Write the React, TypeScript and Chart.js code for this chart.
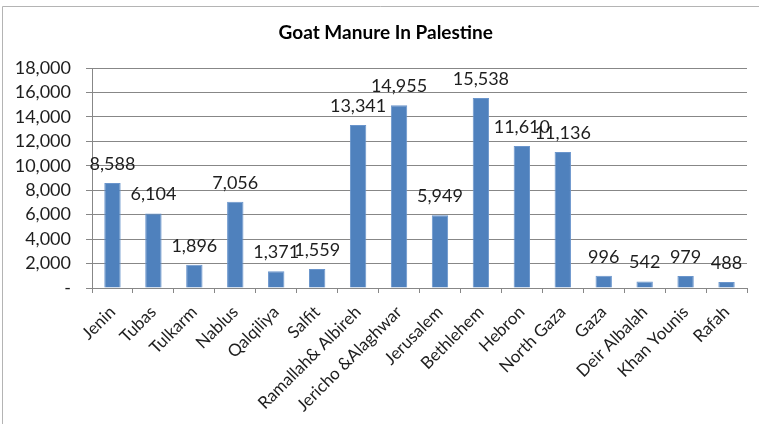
import React, { useEffect, useRef } from "react";
import { Chart, registerables } from "chart.js";

Chart.register(...registerables);

const chartTitle = "Goat Manure In Palestine";

const governorates = [
  "Jenin",
  "Tubas",
  "Tulkarm",
  "Nablus",
  "Qalqiliya",
  "Salfit",
  "Ramallah& Albireh",
  "Jericho &Alaghwar",
  "Jerusalem",
  "Bethlehem",
  "Hebron",
  "North Gaza",
  "Gaza",
  "Deir Albalah",
  "Khan Younis",
  "Rafah",
];

const manureValues = [
  8588, 6104, 1896, 7056, 1371, 1559, 13341, 14955, 5949, 15538, 11610, 11136,
  996, 542, 979, 488,
];

const yMin = 0;
const yMax = 18000;
const yStep = 2000;

const FONT = "Lato, 'Noto Sans', sans-serif";
const GRID = "#878787";
const TEXT = "#1e1e1e";
const FRAME_X = 2.5;
const FRAME_Y = 6.5;

const fmt = (v: number) => (v === 0 ? "-" : v.toLocaleString("en-US"));

// Writes each bar's value just above it
const valueLabels = {
  id: "valueLabels",
  afterDatasetsDraw(chart: any) {
    const ctx = chart.ctx;
    const meta = chart.getDatasetMeta(0);
    const data = chart.data.datasets[0].data as number[];
    ctx.save();
    ctx.font = `18px ${FONT}`;
    ctx.fillStyle = TEXT;
    ctx.textAlign = "center";
    ctx.textBaseline = "middle";
    meta.data.forEach((bar: any, i: number) => {
      ctx.fillText(fmt(data[i]), bar.x, bar.y - 19);
    });
    ctx.restore();
  },
};

// White background, the thin frame and the heading centred in the frame
const frame = {
  id: "frame",
  beforeDraw(chart: any) {
    const { ctx, width, height } = chart;
    ctx.save();
    ctx.fillStyle = "#ffffff";
    ctx.fillRect(0, 0, width, height);
    ctx.strokeStyle = "#b4b4b4";
    ctx.lineWidth = 1;
    ctx.beginPath();
    ctx.moveTo(FRAME_X, height);
    ctx.lineTo(FRAME_X, FRAME_Y);
    ctx.lineTo(width, FRAME_Y);
    ctx.stroke();

    ctx.font = `bold 19px ${FONT}`;
    ctx.fillStyle = "#000000";
    ctx.textAlign = "center";
    ctx.textBaseline = "middle";
    ctx.fillText(chartTitle, (FRAME_X + width) / 2 + 5, 33);
    ctx.restore();
  },
};

export default function App() {
  const canvasRef = useRef<HTMLCanvasElement | null>(null);

  useEffect(() => {
    document.body.style.margin = "0";
    const canvas = canvasRef.current;
    if (!canvas) return;
    Chart.defaults.font.family = FONT;

    const chart = new Chart(canvas, {
      type: "bar",
      data: {
        labels: governorates,
        datasets: [
          {
            data: manureValues,
            backgroundColor: "#4f81bd",
            borderColor: "#6a95cc",
            borderWidth: 1,
            categoryPercentage: 1,
            barPercentage: 0.4,
          },
        ],
      },
      options: {
        responsive: false,
        animation: false,
        devicePixelRatio: 1,
        layout: { padding: { left: 0, right: 12, top: 68, bottom: 0 } },
        plugins: {
          legend: { display: false },
          tooltip: { enabled: false },
          title: { display: false },
        },
        scales: {
          x: {
            grid: {
              offset: true,
              drawOnChartArea: false,
              drawTicks: true,
              tickLength: 5,
              color: GRID,
            },
            border: { color: GRID },
            ticks: {
              autoSkip: false,
              maxRotation: 45,
              minRotation: 45,
              padding: 9,
              color: TEXT,
              font: { family: FONT, size: 17 },
            },
            afterFit(scale: any) {
              scale.height = 136;
            },
          },
          y: {
            min: yMin,
            max: yMax,
            grid: { color: GRID, tickLength: 6, drawTicks: true },
            border: { color: GRID },
            ticks: {
              stepSize: yStep,
              autoSkip: false,
              padding: 15,
              color: TEXT,
              font: { family: FONT, size: 18 },
              callback: (v: any) => fmt(Number(v)),
            },
            afterFit(scale: any) {
              scale.width = 92;
            },
          },
        },
      },
      plugins: [frame, valueLabels],
    });

    return () => chart.destroy();
  }, []);

  return (
    <div style={{ width: 759, height: 424 }}>
      <canvas ref={canvasRef} width={759} height={424} />
    </div>
  );
}
